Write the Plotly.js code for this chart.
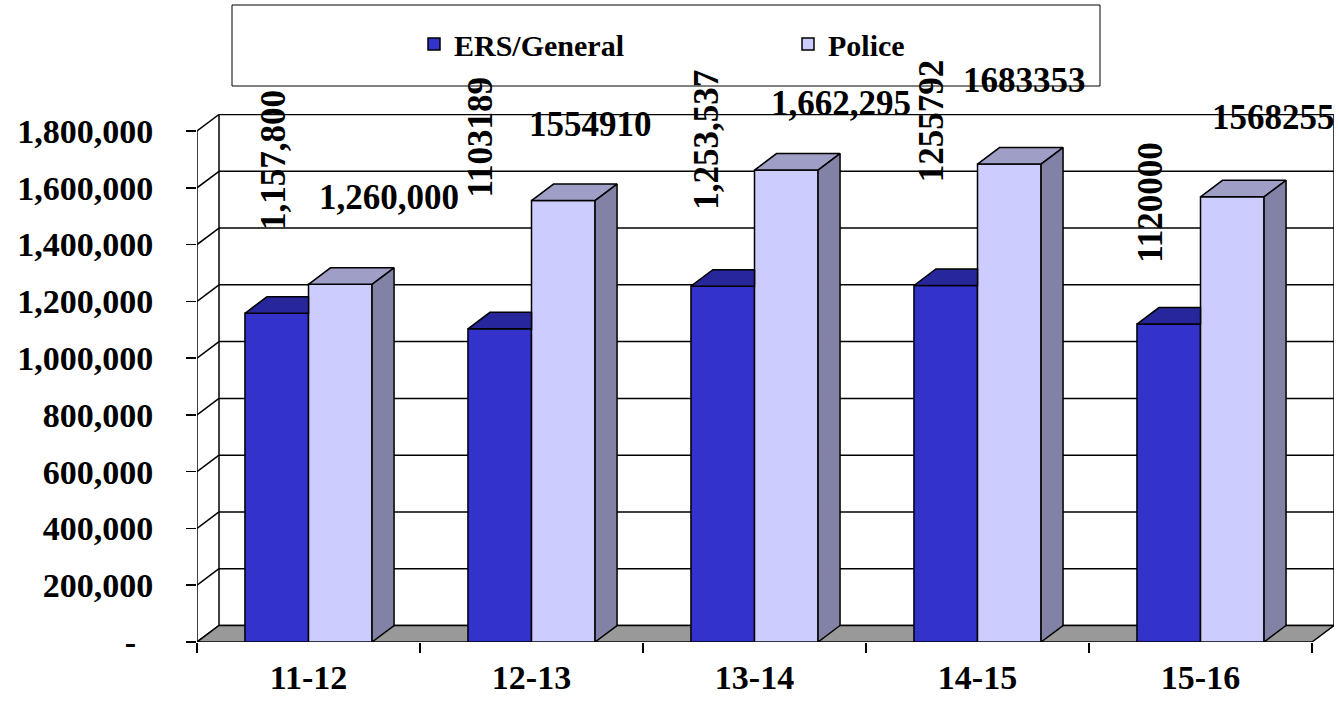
<!DOCTYPE html>
<html>
<head>
<meta charset="utf-8">
<script src="https://cdn.plot.ly/plotly-3.0.1.min.js"></script>
<style>html,body{margin:0;padding:0;background:#fff;}#chart{width:1339px;height:702px;}</style>
</head>
<body>
<div id="chart"></div>
<script>
// ---- data ----
const categories = ['11-12', '12-13', '13-14', '14-15', '15-16'];
const ersValues = [1157800, 1103189, 1253537, 1255792, 1120000];
const policeValues = [1260000, 1554910, 1662295, 1683353, 1568255];
const ersLabels = ['1,157,800', '1103189', '1,253,537', '1255792', '1120000'];
const policeLabels = ['1,260,000', '1554910', '1,662,295', '1683353', '1568255'];
const yTickVals = [0, 200000, 400000, 600000, 800000, 1000000, 1200000, 1400000, 1600000, 1800000];
const yTickText = ['-\u00a0\u00a0', '200,000', '400,000', '600,000', '800,000', '1,000,000', '1,200,000', '1,400,000', '1,600,000', '1,800,000'];
const seriesNames = ['ERS/General', 'Police'];

// ---- layout geometry ----
const M = {l: 197, r: 5, t: 114, b: 60};
const plotW = 1339 - M.l - M.r, plotH = 702 - M.t - M.b;
const yMaxTick = yTickVals[yTickVals.length - 1];
const pxPerY = 511 / yMaxTick;          // front axis scale
const depthPx = {x: 22, y: 16.5};       // 3-D depth offset in pixels
const dy = depthPx.y / pxPerY;
const yTop = plotH / pxPerY;
const xLo = -0.5, xHi = categories.length - 0.5;
const pxPerX = (plotW - depthPx.x) / (xHi - xLo);
const dx = depthPx.x / pxPerX;
const bargap = 0.43;
const w = (1 - bargap) / 2;
const xs = categories.map((_, i) => i);

const font = "'Liberation Serif'";
const colors = {ers: '#3333CC', ersTop: '#27279B', pol: '#CCCCFF', polTop: '#9E9EC6', polSide: '#8282A6', floor: '#999999'};

// ---- faces computed from the values ----
function facePath(list) {
  const X = [], Y = [];
  list.forEach(p => { p.forEach(q => { X.push(q[0]); Y.push(q[1]); }); X.push(null); Y.push(null); });
  return {X, Y};
}
const ersTop = facePath(xs.map((x, i) => {
  const v = ersValues[i];
  return [[x - w, v], [x, v], [x, v + dy], [x - w + dx, v + dy], [x - w, v]];
}));
const polTop = facePath(xs.map((x, i) => {
  const v = policeValues[i];
  return [[x, v], [x + w, v], [x + w + dx, v + dy], [x + dx, v + dy], [x, v]];
}));
const polSide = facePath(xs.map((x, i) => {
  const v = policeValues[i];
  return [[x + w, 0], [x + w, v], [x + w + dx, v + dy], [x + w + dx, dy], [x + w, 0]];
}));

const edge = {color: '#000', width: 1.5};
const traces = [
  {type: 'bar', name: seriesNames[0], x: xs, y: ersValues, marker: {color: colors.ers, line: edge}, hoverinfo: 'skip'},
  {type: 'bar', name: seriesNames[1], x: xs, y: policeValues, marker: {color: colors.pol, line: edge}, hoverinfo: 'skip'},
  {type: 'scatter', mode: 'lines', x: ersTop.X, y: ersTop.Y, fill: 'toself', fillcolor: colors.ersTop, line: edge, showlegend: false, hoverinfo: 'skip'},
  {type: 'scatter', mode: 'lines', x: polTop.X, y: polTop.Y, fill: 'toself', fillcolor: colors.polTop, line: edge, showlegend: false, hoverinfo: 'skip'},
  {type: 'scatter', mode: 'lines', x: polSide.X, y: polSide.Y, fill: 'toself', fillcolor: colors.polSide, line: edge, showlegend: false, hoverinfo: 'skip'}
];

// ---- walls, floor, grid ----
const shapes = [];
const ln = {color: '#000', width: 1.5};
yTickVals.forEach(v => {
  shapes.push({type: 'line', layer: 'below', xref: 'x', yref: 'y', x0: xLo + dx, x1: xHi + dx, y0: v + dy, y1: v + dy, line: ln});
  shapes.push({type: 'line', layer: 'below', xref: 'x', yref: 'y', x0: xLo, x1: xLo + dx, y0: v, y1: v + dy, line: ln});
});
shapes.push({type: 'line', layer: 'below', xref: 'x', yref: 'y', x0: xLo + dx, x1: xLo + dx, y0: dy, y1: yMaxTick + dy, line: ln});
shapes.push({type: 'line', layer: 'below', xref: 'x', yref: 'y', x0: xHi + dx, x1: xHi + dx, y0: dy, y1: yMaxTick + dy, line: ln});
shapes.push({type: 'line', layer: 'below', xref: 'x', yref: 'y', x0: xLo, x1: xLo, y0: 0, y1: yMaxTick, line: ln});
shapes.push({type: 'path', layer: 'below', xref: 'x', yref: 'y',
  path: `M${xLo},0 L${xHi},0 L${xHi + dx},${dy} L${xLo + dx},${dy} Z`, fillcolor: colors.floor, line: ln});
// legend frame
shapes.push({type: 'rect', xref: 'paper', yref: 'paper',
  x0: (232 - M.l) / plotW, x1: (1100 - M.l) / plotW, y0: (plotH + M.t - 86) / plotH, y1: (plotH + M.t - 5) / plotH,
  line: {color: '#000', width: 1}, fillcolor: 'rgba(0,0,0,0)'});

// ---- data labels ----
const ersShift = [[-3, 153], [-19, 192], [-17, 146], [-14, 165], [-19, 122]];
const polShift = [[49, 87], [27, 76], [55, 67], [15, 84], [41, 79]];
const labelFont = {family: font, size: 35, color: '#000', weight: 'bold'};
const annotations = [];
xs.forEach((x, i) => {
  annotations.push({xref: 'x', yref: 'y', x: x - w / 2, y: ersValues[i], text: ersLabels[i], showarrow: false,
    textangle: -90, xshift: ersShift[i][0], yshift: ersShift[i][1], font: labelFont});
  annotations.push({xref: 'x', yref: 'y', x: x + w / 2, y: policeValues[i], text: policeLabels[i], showarrow: false,
    xshift: polShift[i][0], yshift: polShift[i][1], font: labelFont});
});

const layout = {
  width: 1339, height: 702,
  margin: M,
  paper_bgcolor: '#fff', plot_bgcolor: 'rgba(0,0,0,0)',
  barmode: 'group', bargap: bargap, bargroupgap: 0,
  font: {family: font, color: '#000', weight: 'bold'},
  xaxis: {range: [xLo, xHi + dx], tickmode: 'array', tickvals: xs, ticktext: categories, ticks: '',
    showgrid: false, zeroline: false, showline: false, fixedrange: true,
    ticklabelstandoff: 12,
    tickfont: {family: font, size: 34, color: '#000', weight: 'bold'},
    minor: {tickmode: 'linear', tick0: xLo, dtick: 1, ticks: 'outside', ticklen: 10, tickcolor: '#000', tickwidth: 1.5, showgrid: false}},
  yaxis: {range: [0, yTop], tickmode: 'array', tickvals: yTickVals, ticktext: yTickText, ticks: 'outside', ticklen: 10,
    tickcolor: '#000', tickwidth: 1.5, showgrid: false, zeroline: false, showline: false, fixedrange: true,
    ticklabelstandoff: 26,
    tickfont: {family: font, size: 34, color: '#000', weight: 'bold'}},
  showlegend: true,
  legend: {orientation: 'h', x: (414 - M.l) / plotW, xanchor: 'left', y: (plotH + M.t - 44) / plotH, yanchor: 'middle',
    entrywidth: 329, entrywidthmode: 'pixels', bgcolor: 'rgba(0,0,0,0)', borderwidth: 0,
    font: {family: font, size: 30, color: '#000', weight: 'bold'}, traceorder: 'normal'},
  shapes: shapes,
  annotations: annotations
};

Plotly.newPlot('chart', traces, layout, {displayModeBar: false, staticPlot: true});
</script>
</body>
</html>
